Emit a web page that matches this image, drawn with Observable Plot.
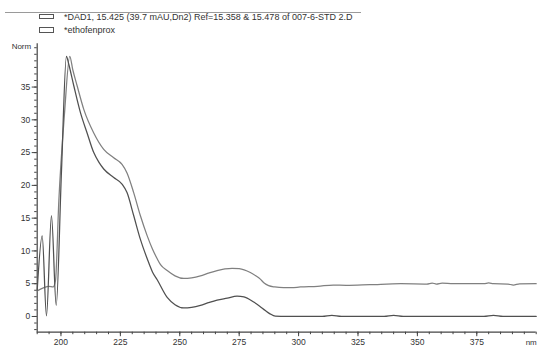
<!DOCTYPE html>
<html>
<head>
<meta charset="utf-8">
<script src="https://cdn.jsdelivr.net/npm/d3@7"></script>
<script src="https://cdn.jsdelivr.net/npm/@observablehq/plot@0.6"></script>
<style>
  html, body { margin: 0; padding: 0; background: #fff; }
  #wrap { position: relative; width: 539px; height: 347px; font-family: "Liberation Sans", Arial, sans-serif; }
  #chart { position: absolute; left: 0; top: 0; }
  #legend { position: absolute; left: 0; top: 0; width: 539px; height: 40px; }
  .topline { position: absolute; left: 5px; top: 12px; width: 356px; height: 0; border-top: 1px solid #9a9a9a; }
  .item { position: absolute; left: 39px; height: 12px; display: flex; align-items: center; font-size: 9px; color: #333; white-space: nowrap; }
  .sym { width: 13px; height: 3.5px; border: 1px solid #555; margin-right: 10px; background: #fff; }
</style>
</head>
<body>
<div id="wrap">
  <div id="chart"></div>
  <div id="legend"></div>
</div>
<script>
// Series 1: *DAD1 sample spectrum (darker, baseline 0)
const dadNm = [190, 192.1, 193.9, 196.0, 198.0, 200.2, 202.3, 203.2, 205.4, 208.2, 211.0, 213.8, 216, 218.0, 222.2, 225.7, 227.8, 230.6, 233.4, 236.3, 238.5, 240.5, 244.7, 248, 251.7, 255, 258.7, 262, 265.7, 270, 274.1, 277, 281.1, 283.5, 286.0, 288, 290.2, 295, 310, 314, 318, 336, 340, 344, 378, 382, 386, 400];
const dadVal = [4.0, 12.3, 0.1, 15.4, 1.7, 22, 39.7, 38.6, 35.2, 31.1, 28.0, 25.0, 23.5, 22.5, 21.2, 20.2, 18.9, 15.4, 11.8, 8.8, 6.8, 5.6, 2.9, 1.8, 1.3, 1.4, 1.7, 2.1, 2.5, 2.8, 3.1, 3.0, 2.2, 1.6, 0.9, 0.4, 0.05, 0, 0, 0.15, 0, 0, 0.15, 0, 0, 0.15, 0, 0];

// Series 2: *ethofenprox library spectrum (lighter, offset baseline ~5)
const ethNm = [190, 192.8, 194.9, 196.7, 197.7, 199.1, 201.5, 203.7, 205, 206.8, 209.6, 213.8, 218.0, 222.2, 225.7, 227.8, 230.6, 233.4, 236.3, 238.5, 240.5, 241.9, 244.7, 248, 251.7, 255, 258.7, 262, 265.7, 269, 272, 275, 279.7, 282, 283.9, 285.5, 287.4, 290, 293.7, 297, 300.8, 308, 314.6, 320, 330, 343, 354, 356.2, 358, 360.4, 365, 378, 380, 382, 388, 390.4, 393, 400];
const ethVal = [3.9, 4.4, 4.6, 4.5, 5.5, 17.6, 31, 39.7, 37.6, 35.2, 31.6, 28, 25.5, 24.2, 23.2, 21.9, 18.9, 15.4, 12.3, 10.3, 8.8, 7.9, 7.0, 6.2, 5.8, 5.9, 6.2, 6.6, 7.0, 7.25, 7.35, 7.3, 6.7, 6.2, 5.7, 5.1, 4.7, 4.5, 4.4, 4.4, 4.5, 4.6, 4.8, 4.75, 4.85, 5.0, 4.95, 5.1, 4.95, 5.1, 5.0, 5.0, 5.12, 5.0, 4.95, 4.8, 4.98, 5.0];

const legendLabels = ["*DAD1, 15.425 (39.7 mAU,Dn2) Ref=15.358 & 15.478 of 007-6-STD 2.D", "*ethofenprox"];
const yMajor = [0, 5, 10, 15, 20, 25, 30, 35];
const yMinor = d3.range(-2, 42, 1);
const xMajor = [200, 225, 250, 275, 300, 325, 350, 375];
const xMinor = d3.range(190, 401, 5);
const yLabel = "Norm";
const xUnit = "nm";

const dad = dadNm.map((x, i) => ({x, y: dadVal[i]}));
const eth = ethNm.map((x, i) => ({x, y: ethVal[i]}));

const xDom = [190, 400], yDom = [-2.4, 41.6];

const plot = Plot.plot({
  width: 539,
  height: 347,
  marginLeft: 36.7,
  marginRight: 3.3,
  marginTop: 43.3,
  marginBottom: 15.3,
  x: {domain: xDom},
  y: {domain: yDom},
  style: {fontFamily: "Liberation Sans, Arial, sans-serif", fontSize: "8.5px", color: "#333", background: "#fff", overflow: "visible"},
  marks: [
    Plot.axisY({ticks: yMinor, tickSize: 2.5, tickFormat: () => "", label: null, stroke: "#444"}),
    Plot.axisY({ticks: yMajor, tickSize: 5, tickPadding: 2, label: null, stroke: "#444"}),
    Plot.axisX({ticks: xMinor, tickSize: 2.5, tickFormat: () => "", label: null, stroke: "#444"}),
    Plot.axisX({ticks: xMajor, tickSize: 4.5, tickPadding: 2, label: null, stroke: "#444"}),
    Plot.ruleX([190], {stroke: "#444", strokeWidth: 1.2}),
    Plot.ruleY([-2.4], {stroke: "#444", strokeWidth: 1.2}),
    Plot.text([yLabel], {x: 190, y: 41.6, dx: -6, dy: 3, textAnchor: "end", fontSize: 8, fill: "#333"}),
    Plot.text([xUnit], {x: 400, y: -2.4, dx: -5, dy: 10, textAnchor: "middle", fontSize: 8, fill: "#333"}),
    Plot.line(eth, {x: "x", y: "y", stroke: "#808080", strokeWidth: 1.25, curve: "monotone-x"}),
    Plot.line(dad, {x: "x", y: "y", stroke: "#505050", strokeWidth: 1.25, curve: "monotone-x"})
  ]
});
document.getElementById("chart").appendChild(plot);

const legend = document.getElementById("legend");
const tl = document.createElement("div");
tl.className = "topline";
legend.appendChild(tl);
legendLabels.forEach((t, i) => {
  const d = document.createElement("div");
  d.className = "item";
  d.style.top = (10.5 + i * 13.7) + "px";
  const s = document.createElement("div");
  s.className = "sym";
  const span = document.createElement("span");
  span.textContent = t;
  d.appendChild(s);
  d.appendChild(span);
  legend.appendChild(d);
});
</script>
</body>
</html>
